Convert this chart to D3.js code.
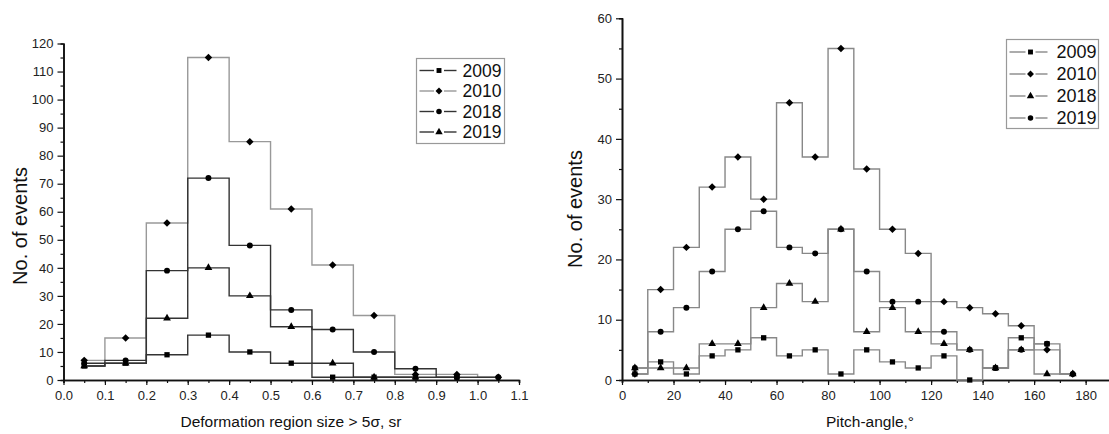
<!DOCTYPE html>
<html>
<head>
<meta charset="utf-8">
<script src="https://cdn.jsdelivr.net/npm/d3@7"></script>
<style>
  body { margin: 0; background: #fff; }
  text { font-family: "Liberation Sans", Arial, sans-serif; }
</style>
</head>
<body>
<div id="main"></div>
<script>
// left panel: deformation region size bins
var sizeBins = [0.05, 0.15, 0.25, 0.35, 0.45, 0.55, 0.65, 0.75, 0.85, 0.95, 1.05]
var size2009 = [5, 6, 9, 16, 10, 6, 1, 1, 1, 1]
var size2010 = [7, 15, 56, 115, 85, 61, 41, 23, 2, 2, 1]
var size2018 = [6, 7, 39, 72, 48, 25, 18, 10, 4, 1, 1]
var size2019 = [5, 6, 22, 40, 30, 19, 6, 1, 1]

// right panel: pitch-angle bins
var angleBins = [5, 15, 25, 35, 45, 55, 65, 75, 85, 95, 105, 115, 125, 135, 145, 155, 165, 175]
var angle2009 = [1, 3, 1, 4, 5, 7, 4, 5, 1, 5, 3, 2, 4, 0, 2, 7, 6]
var angle2010 = [1, 15, 22, 32, 37, 30, 46, 37, 55, 35, 25, 21, 13, 12, 11, 9, 5, 1]
var angle2018 = [2, 2, 2, 6, 6, 12, 16, 13, 25, 8, 12, 8, 6, 5, 2, 5, 1, 1]
var angle2019 = [2, 8, 12, 18, 25, 28, 22, 21, 25, 18, 13, 13, 8, 5, 2, 5, 6, 1]

var years = ["2009", "2010", "2018", "2019"]

var W = 1109, H = 434
var svg = d3.select("#main").append("svg").attr("width", W).attr("height", H)

// square turned 45deg, like the Origin diamond
var diamond = {
  draw: function(ctx, size) {
    var r = Math.sqrt(size / 2)
    ctx.moveTo(0, -r); ctx.lineTo(r, 0); ctx.lineTo(0, r); ctx.lineTo(-r, 0); ctx.closePath()
  }
}

function drawPanel(opt) {
  var x = d3.scaleLinear().domain(opt.xDomain).range(opt.xRange)
  var y = d3.scaleLinear().domain(opt.yDomain).range(opt.yRange)
  var g = svg.append("g")

  // minor ticks first
  g.append("g").attr("transform", `translate(0,${opt.yRange[0]})`)
    .call(d3.axisBottom(x).tickValues(opt.xMinor).tickSize(3).tickFormat(""))
  g.append("g").attr("transform", `translate(${opt.xRange[0]},0)`)
    .call(d3.axisLeft(y).tickValues(opt.yMinor).tickSize(3).tickFormat(""))

  g.append("g").attr("transform", `translate(0,${opt.yRange[0]})`)
    .call(d3.axisBottom(x).tickValues(opt.xMajor).tickSize(5).tickSizeOuter(0).tickPadding(6).tickFormat(opt.xFormat))
  g.append("g").attr("transform", `translate(${opt.xRange[0]},0)`)
    .call(d3.axisLeft(y).tickValues(opt.yMajor).tickSize(6).tickSizeOuter(0).tickPadding(4).tickFormat(d3.format("d")))
  g.selectAll(".domain").attr("stroke", "#111").attr("stroke-width", 1.6)
  g.selectAll(".tick line").attr("stroke", "#111").attr("stroke-width", 1.2)
  g.selectAll(".tick text").attr("font-size", 13).attr("fill", "#222")
    .attr("font-family", "Liberation Sans, Arial, sans-serif")

  var line = d3.line().x((d) => x(d[0])).y((d) => y(d[1])).curve(d3.curveStep)

  opt.series.forEach((s) => {
    var pts = s.values.map((v, i) => [opt.bins[i], v])
    g.append("path").attr("d", line(pts)).attr("fill", "none")
      .attr("stroke", s.color).attr("stroke-width", 1.4)
    g.selectAll(null).data(pts).enter().append("path")
      .attr("transform", (d) => `translate(${x(d[0])},${y(d[1])})`)
      .attr("d", d3.symbol().type(s.symbol).size(s.symbol === d3.symbolTriangle ? 26 : 28))
      .attr("fill", "#000")
  })

  // axis titles
  g.append("text").attr("x", opt.xTitlePos[0]).attr("y", opt.xTitlePos[1])
    .attr("text-anchor", "middle").attr("font-size", 15.5).attr("fill", "#111")
    .text(opt.xTitle)
  g.append("text").attr("transform", `translate(${opt.yTitlePos[0]},${opt.yTitlePos[1]}) rotate(-90)`)
    .attr("text-anchor", "middle").attr("font-size", 20).attr("fill", "#111")
    .text("No. of events")

  // legend
  var lg = opt.legend
  g.append("rect").attr("x", lg.x).attr("y", lg.y).attr("width", lg.w).attr("height", lg.h)
    .attr("fill", "#fff").attr("stroke", "#999").attr("stroke-width", 1.2)
  opt.series.forEach((s, i) => {
    var cy = lg.y + lg.first + i * lg.step
    var mx = lg.x + lg.mark
    g.append("line").attr("x1", lg.x + 3).attr("x2", mx - 5).attr("y1", cy).attr("y2", cy)
      .attr("stroke", s.color).attr("stroke-width", 1.4)
    g.append("line").attr("x1", mx + 5).attr("x2", lg.x + lg.lineEnd).attr("y1", cy).attr("y2", cy)
      .attr("stroke", s.color).attr("stroke-width", 1.4)
    g.append("path").attr("transform", `translate(${mx},${cy})`)
      .attr("d", d3.symbol().type(s.symbol).size(24)).attr("fill", "#000")
    g.append("text").attr("x", lg.x + lg.textX).attr("y", cy).attr("dy", "0.35em")
      .attr("font-size", lg.font).attr("fill", "#111").text(s.name)
  })
}

drawPanel({
  xDomain: [0, 1.1], xRange: [63.5, 519],
  yDomain: [0, 120], yRange: [380, 43.5],
  xMajor: d3.range(0, 11.5, 1).map((d) => d / 10),
  xMinor: d3.range(0, 22.5, 1).map((d) => d / 20),
  yMajor: d3.range(0, 121, 10),
  yMinor: d3.range(5, 120, 10),
  xFormat: d3.format(".1f"),
  bins: sizeBins,
  series: [
    { name: years[0], values: size2009, symbol: d3.symbolSquare, color: "#333" },
    { name: years[1], values: size2010, symbol: diamond, color: "#999" },
    { name: years[2], values: size2018, symbol: d3.symbolCircle, color: "#333" },
    { name: years[3], values: size2019, symbol: d3.symbolTriangle, color: "#333" }
  ],
  xTitle: "Deformation region size > 5σ, sr",
  xTitlePos: [291, 427],
  yTitlePos: [27, 226],
  legend: { x: 416.5, y: 58.5, w: 88, h: 85, first: 12, step: 20.5, mark: 22.5, lineEnd: 40, textX: 46, font: 17.5 }
})

drawPanel({
  xDomain: [0, 190], xRange: [622, 1111.4],
  yDomain: [0, 60], yRange: [380, 18.3],
  xMajor: d3.range(0, 181, 20),
  xMinor: d3.range(0, 181, 10),
  yMajor: d3.range(0, 61, 10),
  yMinor: d3.range(5, 60, 10),
  xFormat: d3.format("d"),
  bins: angleBins,
  series: [
    { name: years[0], values: angle2009, symbol: d3.symbolSquare, color: "#888" },
    { name: years[1], values: angle2010, symbol: diamond, color: "#888" },
    { name: years[2], values: angle2018, symbol: d3.symbolTriangle, color: "#888" },
    { name: years[3], values: angle2019, symbol: d3.symbolCircle, color: "#888" }
  ],
  xTitle: "Pitch-angle,°",
  xTitlePos: [870, 427],
  yTitlePos: [582, 209],
  legend: { x: 1006.5, y: 39.5, w: 92, h: 89, first: 12.5, step: 22, mark: 24, lineEnd: 41, textX: 50, font: 18 }
})
</script>
</body>
</html>
